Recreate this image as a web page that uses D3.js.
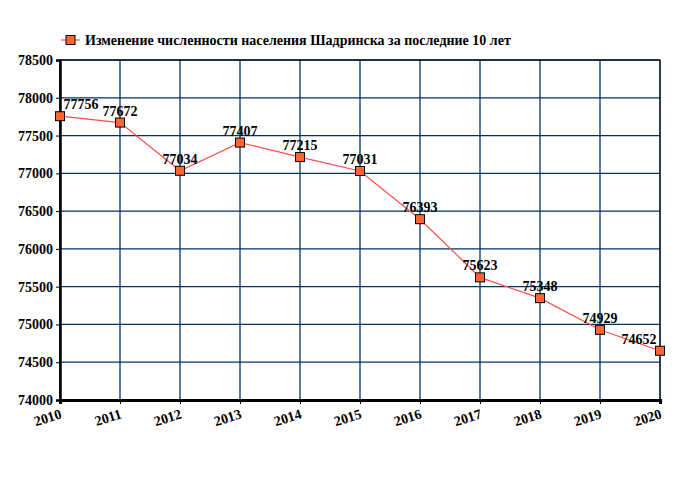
<!DOCTYPE html>
<html><head><meta charset="utf-8">
<script src="https://cdn.jsdelivr.net/npm/d3@7"></script>
<style>body{margin:0;background:#fff}svg{display:block}</style>
</head><body>
<script>
const years = [2010,2011,2012,2013,2014,2015,2016,2017,2018,2019,2020];
const population = [77756,77672,77034,77407,77215,77031,76393,75623,75348,74929,74652];
const yTicks = [74000,74500,75000,75500,76000,76500,77000,77500,78000,78500];
const legendLabel = "Изменение численности населения Шадринска за последние 10 лет";

const W=680,H=500;
const m={l:60,r:20,t:60,b:100};
const svg=d3.select("body").append("svg").attr("width",W).attr("height",H);
const font="'Liberation Serif','Times New Roman',serif";
const x=d3.scaleLinear().domain([2010,2020]).range([m.l,W-m.r]);
const y=d3.scaleLinear().domain([74000,78500]).range([H-m.b,m.t]);
const grid="#003366";

// grid
svg.append("g").selectAll("line").data(yTicks).join("line")
 .attr("x1",m.l).attr("x2",W-m.r).attr("y1",d=>y(d)).attr("y2",d=>y(d))
 .attr("stroke",grid).attr("stroke-width",1.3);
svg.append("g").selectAll("line").data(years).join("line")
 .attr("y1",m.t).attr("y2",H-m.b).attr("x1",d=>x(d)).attr("x2",d=>x(d))
 .attr("stroke",grid).attr("stroke-width",1.3);
// frame
svg.append("rect").attr("x",m.l).attr("y",m.t).attr("width",W-m.l-m.r).attr("height",H-m.t-m.b)
 .attr("fill","none").attr("stroke","#000").attr("stroke-width",1);

// axes
const ya=svg.append("g").attr("transform",`translate(${m.l},0)`)
 .call(d3.axisLeft(y).tickValues(yTicks).tickSize(4).tickPadding(3).tickFormat(d3.format("d")));
ya.select(".domain").attr("stroke-width",2.5);
const xa=svg.append("g").attr("transform",`translate(0,${H-m.b})`)
 .call(d3.axisBottom(x).tickValues(years).tickSize(4).tickFormat(d3.format("d")));
xa.select(".domain").attr("stroke-width",3);
[ya,xa].forEach(g=>g.selectAll("text").attr("font-family",font).attr("font-weight","bold").attr("font-size",14).attr("fill","#000"));
xa.selectAll("text").attr("text-anchor","end").attr("dy",null).attr("y",0)
 .attr("transform","translate(2,18) rotate(-17)");

// line
svg.append("path").datum(years.map((d,i)=>[d,population[i]]))
 .attr("fill","none").attr("stroke","#ff4d4d").attr("stroke-width",1.2)
 .attr("d",d3.line().x(d=>x(d[0])).y(d=>y(d[1])));
svg.append("g").selectAll("rect").data(years).join("rect")
 .attr("x",d=>x(d)-4.5).attr("y",(d,i)=>y(population[i])-4.5).attr("width",9).attr("height",9)
 .attr("fill","#ff6633").attr("stroke","#000").attr("stroke-width",1);

// labels
svg.append("g").selectAll("text").data(years).join("text")
 .attr("x",(d,i)=>{let cx=x(d);return Math.max(m.l+4+17,Math.min(W-m.r-4-17,cx));})
 .attr("y",(d,i)=>y(population[i])-7)
 .attr("text-anchor","middle").attr("font-family",font).attr("font-weight","bold").attr("font-size",14)
 .text((d,i)=>population[i]);

// legend
const lg=svg.append("g");
lg.append("line").attr("x1",61).attr("x2",80).attr("y1",40).attr("y2",40).attr("stroke","#ff4d4d").attr("stroke-width",1.2);
lg.append("rect").attr("x",66).attr("y",35.5).attr("width",9).attr("height",9).attr("fill","#ff6633").attr("stroke","#000");
lg.append("text").attr("x",85).attr("y",45).attr("font-family",font).attr("font-weight","bold").attr("font-size",14).text(legendLabel);
</script>
</body></html>
